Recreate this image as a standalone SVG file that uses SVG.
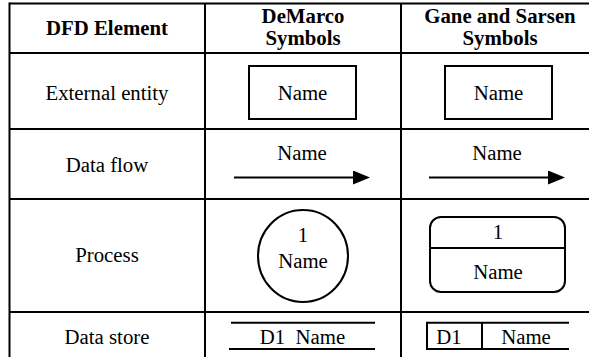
<svg xmlns="http://www.w3.org/2000/svg" width="589" height="357" viewBox="0 0 589 357">
<defs>
<style>
text{font-family:"Liberation Serif","Times New Roman",serif;font-size:20.8px;fill:#000;text-anchor:middle}
.b{font-weight:bold}
.grid{stroke:#000;stroke-width:2;fill:none}
.sh{stroke:#000;stroke-width:2;fill:#fff}
.ln{stroke:#000;stroke-width:2;fill:none}
</style>
<marker id="ah" markerUnits="userSpaceOnUse" markerWidth="18" markerHeight="15" refX="0" refY="7" orient="auto">
<path d="M0,0 L17,7 L0,14 Z" fill="#000"/>
</marker>
</defs>
<rect width="589" height="357" fill="#fff"/>
<g id="table" class="grid">
<line x1="9.5" y1="3.5" x2="589" y2="3.5"/>
<line x1="9.5" y1="53" x2="589" y2="53"/>
<line x1="9.5" y1="129" x2="589" y2="129"/>
<line x1="9.5" y1="199" x2="589" y2="199"/>
<line x1="9.5" y1="312" x2="589" y2="312"/>
<line x1="9.5" y1="2.5" x2="9.5" y2="357"/>
<line x1="205" y1="3.5" x2="205" y2="357"/>
<line x1="401" y1="3.5" x2="401" y2="357"/>
</g>
<g id="header">
<text class="b" x="107" y="35">DFD Element</text>
<text class="b" x="303" y="23">DeMarco</text>
<text class="b" x="303" y="45">Symbols</text>
<text class="b" x="500" y="23">Gane and Sarsen</text>
<text class="b" x="500" y="45">Symbols</text>
</g>
<g id="row-labels">
<text x="107" y="100">External entity</text>
<text x="107" y="172">Data flow</text>
<text x="107" y="262">Process</text>
<text x="107" y="344">Data store</text>
</g>
<g id="demarco-entity">
<rect class="sh" x="249" y="66" width="107" height="53"/>
<text x="302.5" y="100">Name</text>
</g>
<g id="gane-entity">
<rect class="sh" x="445" y="66" width="107" height="53"/>
<text x="498.5" y="100">Name</text>
</g>
<g id="connectors">
<g id="demarco-flow">
<line class="ln" x1="234" y1="177.5" x2="353" y2="177.5" marker-end="url(#ah)"/>
<text x="302" y="160">Name</text>
</g>
<g id="gane-flow">
<line class="ln" x1="429" y1="177.5" x2="548" y2="177.5" marker-end="url(#ah)"/>
<text x="497" y="160">Name</text>
</g>
</g>
<g id="demarco-process">
<ellipse class="sh" cx="303" cy="256" rx="45" ry="46" stroke-width="1.7"/>
<text x="303" y="242">1</text>
<text x="303" y="268">Name</text>
</g>
<g id="gane-process">
<rect class="sh" x="430" y="217" width="135" height="75" rx="11" ry="11" stroke-width="1.7"/>
<line class="ln" x1="430" y1="248" x2="565" y2="248" stroke-width="1.7"/>
<text x="498" y="239">1</text>
<text x="498" y="279">Name</text>
</g>
<g id="demarco-store">
<line class="ln" x1="231" y1="322.7" x2="375" y2="322.7"/>
<line class="ln" x1="229" y1="349" x2="375" y2="349"/>
<text x="302.5" y="343.5" xml:space="preserve" style="white-space:pre">D1  Name</text>
</g>
<g id="gane-store">
<polyline class="ln" points="569,322.7 427,322.7 427,349 569,349"/>
<line class="ln" x1="482" y1="322.7" x2="482" y2="349"/>
<text x="449" y="343.5">D1</text>
<text x="526" y="343.5">Name</text>
</g>
</svg>
